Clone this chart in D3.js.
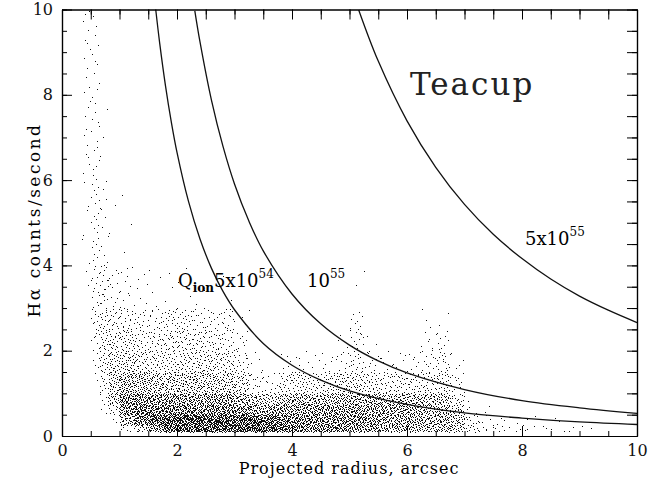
<!doctype html>
<html>
<head>
    <meta charset="utf-8">
    <title>Teacup H-alpha profile</title>
    <style>
        body { margin: 0; padding: 0; background: #fff; }
        text { font-family: "DejaVu Serif", "Liberation Serif", serif; }
        .axis path, .axis line { stroke: #000; }
        .axis text { font-size: 16px; fill: #111; }
    </style>
</head>
<body>
<svg id="chart" width="651" height="485"></svg>
<script src="https://d3js.org/d3.v7.min.js"></script>
<script>
// ---- scatter density (dots per cell) ----
// radius bin edges (arcsec)
var colEdges = [0.35, 0.5, 0.65, 0.8, 1.0, 1.25, 1.5, 1.75, 2.0, 2.25, 2.5, 2.75, 3.0, 3.25, 3.5, 3.75,
                4.0, 4.25, 4.5, 4.75, 5.0, 5.25, 5.5, 5.75, 6.0, 6.25, 6.5, 6.75, 7.0, 7.25, 7.5, 7.75,
                8.0, 8.25, 8.5, 8.75, 9.0, 9.25];
// count-rate bin edges
var rowEdges = [0.1, 0.25, 0.5, 0.75, 1, 1.5, 2, 2.5, 3, 4, 6, 8, 10];
// one array per row (bottom to top), one value per radius bin
var row0  = [0,0,0,0, 4,14,35,55,65,65,70,70,70,65,60,55,50,45,45,40,40,35,30,30,30,25,25,20,10,5,4,3,3,2,2,2,2];
var row1  = [0,0,0,3, 40,75,100,110,115,115,115,115,110,100,95,80,70,70,70,65,65,60,55,50,50,45,45,35,10,5,3,2,3,0,2,0,0];
var row2  = [0,0,2,12, 65,80,80,75,70,70,70,70,65,55,55,55,60,60,60,60,60,55,55,50,50,40,40,25,3,2,0,0,0,0,0,0,0];
var row3  = [0,0,5,25, 70,70,65,60,55,55,55,55,45,35,28,40,45,40,45,45,45,45,40,40,40,35,35,15,1,0,0,0,0,0,0,0,0];
var row4  = [0,2,12,45, 85,75,65,60,60,60,60,55,40,16,11,26,32,26,32,40,40,32,26,26,26,26,32,12,0,0,0,0,0,0,0,0,0];
var row5  = [0,5,18,35, 45,35,30,30,30,35,35,30,18,4,0,5,6,4,6,10,18,10,7,6,7,12,18,4,0,0,0,0,0,0,0,0,0];
var row6  = [0,8,18,25, 32,22,22,27,27,27,22,17,9,0,0,0,0,0,0,3,13,3,0,0,0,7,9,0,0,0,0,0,0,0,0,0,0];
var row7  = [0,10,15,18, 20,15,15,20,20,15,12,16,3,0,0,0,0,0,0,0,8,0,0,0,0,3,2,0,0,0,0,0,0,0,0,0,0];
var row8  = [2,15,20,12, 12,6,4,3,3,2,0,2,0,0,0,0,0,0,0,0,2,0,0,0,0,0,0,0,0,0,0,0,0,0,0,0,0];
var row9  = [6,22,12,2, 3,0,0,0,0,0,0,0,0,0,0,0,0,0,0,0,0,0,0,0,0,0,0,0,0,0,0,0,0,0,0,0,0];
var row10 = [10,15,3,0, 0,0,0,0,0,0,0,0,0,0,0,0,0,0,0,0,0,0,0,0,0,0,0,0,0,0,0,0,0,0,0,0,0];
var row11 = [12,10,0,0, 0,0,0,0,0,0,0,0,0,0,0,0,0,0,0,0,0,0,0,0,0,0,0,0,0,0,0,0,0,0,0,0,0];
var rows = [row0, row1, row2, row3, row4, row5, row6, row7, row8, row9, row10, row11];

// ---- Q_ion model curves (radius, counts/second) ----
var curveR1 = [1.63, 1.7, 1.8, 1.9, 2.0, 2.2, 2.4, 2.6, 2.8, 3.0, 3.5, 4.0, 4.5, 5.0, 6.0, 7.0, 8.0, 9.0, 10];
var curveY1 = [10.0, 9.20, 8.21, 7.37, 6.65, 5.50, 4.62, 3.93, 3.39, 2.96, 2.17, 1.66, 1.31, 1.06, 0.74, 0.54, 0.42, 0.33, 0.27];
var curveR2 = [2.31, 2.4, 2.6, 2.8, 3.0, 3.25, 3.5, 4.0, 4.5, 5.0, 5.5, 6.0, 7.0, 8.0, 9.0, 10];
var curveY2 = [9.97, 9.24, 7.87, 6.79, 5.91, 5.04, 4.34, 3.33, 2.63, 2.13, 1.76, 1.48, 1.09, 0.83, 0.66, 0.53];
var curveR3 = [5.16, 5.5, 6.0, 6.5, 7.0, 7.5, 8.0, 8.5, 9.0, 9.5, 10];
var curveY3 = [9.99, 8.79, 7.39, 6.30, 5.43, 4.73, 4.16, 3.68, 3.28, 2.95, 2.66];

var majorTicks = [0, 2, 4, 6, 8, 10];
var minorTicks = d3.range(0, 10.01, 0.5);

var svg = d3.select("#chart");

var x = d3.scaleLinear().domain([0, 10]).range([62, 637]);
var y = d3.scaleLinear().domain([0, 10]).range([436, 9.5]);

// halton sequence for even placement of dots in each cell
function halton(i, b) {
    var f = 1, r = 0;
    while (i > 0) { f = f / b; r += f * (i % b); i = Math.floor(i / b); }
    return r;
}

var dots = [];
var g = 1;
rows.forEach(function(row, j) {
    row.forEach(function(n, i) {
        for (var k = 0; k < n; k++) {
            dots.push({
                r: colEdges[i] + (colEdges[i + 1] - colEdges[i]) * halton(g, 2),
                v: rowEdges[j] + (rowEdges[j + 1] - rowEdges[j]) * halton(g, 3)
            });
            g++;
        }
    });
});

svg.append("g")
    .selectAll("rect")
    .data(dots)
    .enter().append("rect")
    .attr("x", function(d) { return Math.round(x(d.r)); })
    .attr("y", function(d) { return Math.round(y(d.v)); })
    .attr("width", 1)
    .attr("height", 1)
    .style("fill", "#111");

// curves
var line = d3.line()
    .x(function(d) { return x(d[0]); })
    .y(function(d) { return y(d[1]); })
    .curve(d3.curveCatmullRom);

[[curveR1, curveY1], [curveR2, curveY2], [curveR3, curveY3]].forEach(function(c) {
    svg.append("path")
        .datum(c[0].map(function(r, i) { return [r, c[1][i]]; }))
        .attr("d", line)
        .style("fill", "none")
        .style("stroke", "#111")
        .style("stroke-width", 1.3);
});

// axes with inward ticks on all four sides
function addAxis(axisFn, scale, transform, size, labels) {
    var ax = axisFn(scale).tickValues(labels ? majorTicks : minorTicks)
        .tickSize(-size).tickSizeOuter(0).tickPadding(labels ? 9 : 0);
    if (!labels) ax.tickFormat("");
    else ax.tickFormat(d3.format("d"));
    svg.append("g").attr("class", "axis").attr("transform", transform).call(ax);
}
addAxis(d3.axisBottom, x, "translate(0,436)", 5, false);
addAxis(d3.axisBottom, x, "translate(0,436)", 10, true);
addAxis(d3.axisTop, x, "translate(0,9.5)", 5, false);
addAxis(d3.axisTop, x, "translate(0,9.5)", 10, false);
addAxis(d3.axisLeft, y, "translate(62,0)", 5, false);
addAxis(d3.axisLeft, y, "translate(62,0)", 10, true);
addAxis(d3.axisRight, y, "translate(637,0)", 5, false);
addAxis(d3.axisRight, y, "translate(637,0)", 10, false);

svg.selectAll(".axis").selectAll(".tick line").style("stroke-width", 1);
svg.selectAll(".axis path").style("stroke-width", 1.2);

// axis titles
svg.append("text")
    .attr("x", 349)
    .attr("y", 474)
    .attr("text-anchor", "middle")
    .style("font-size", "16px")
    .style("letter-spacing", "1px")
    .text("Projected radius, arcsec");

svg.append("text")
    .attr("transform", "translate(40,220) rotate(-90)")
    .attr("text-anchor", "middle")
    .style("font-size", "17px")
    .style("letter-spacing", "2.5px")
    .text("H\u03b1 counts/second");

// labels
svg.append("text")
    .attr("x", 410)
    .attr("y", 95)
    .style("font-size", "31px")
    .style("letter-spacing", "2px")
    .style("fill", "#222")
    .text("Teacup");

var q = svg.append("text").attr("x", 178).attr("y", 287).style("font-size", "18px");
q.append("tspan").text("Q");
q.append("tspan").attr("dy", 5).style("font-size", "12px").style("font-weight", "bold").text("ion");
q.append("tspan").attr("dy", -5).text("5x10");
q.append("tspan").attr("dy", -9).style("font-size", "12px").text("54");

var q2 = svg.append("text").attr("x", 307).attr("y", 287).style("font-size", "18px");
q2.append("tspan").text("10");
q2.append("tspan").attr("dy", -9).style("font-size", "12px").text("55");

var q3 = svg.append("text").attr("x", 525).attr("y", 245).style("font-size", "18px");
q3.append("tspan").text("5x10");
q3.append("tspan").attr("dy", -9).style("font-size", "12px").text("55");
</script>
</body>
</html>
